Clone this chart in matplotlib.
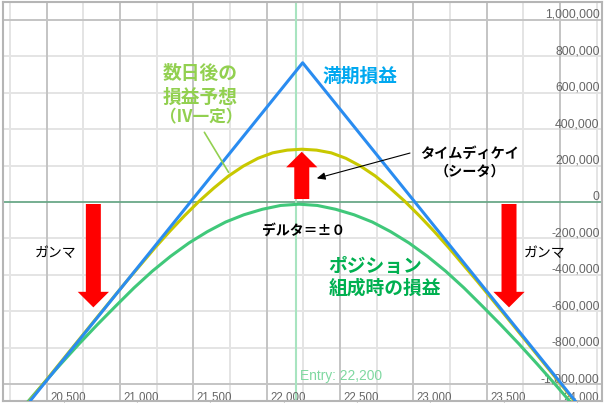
import matplotlib
matplotlib.use("Agg")
import matplotlib.pyplot as plt
from matplotlib import transforms as mtrans

# ---------------- data ----------------
expiry_x = [20200, 22245, 24300]
expiry_y = [-1280000, 765000, -1290000]

later_x = [20200, 20240, 20640, 20840, 21040, 21240, 21340, 21440, 21540, 21640,
           21740, 21840, 21940, 22040, 22140, 22240, 22340, 22440, 22540, 22640,
           22740, 22840, 22940, 23040, 23140, 23240, 23440, 23640, 23840, 24240, 24300]
later_y = [-1275000, -1235000, -836000, -637000, -440000, -250000, -160000, -75000, 5000, 77000,
           143000, 197000, 240000, 270000, 285000, 290000, 285000, 270000, 240000, 197000,
           143000, 77000, 5000, -75000, -160000, -250000, -440000, -637000, -836000, -1235000, -1295000]

entry_x = [20200, 20220, 20345, 20470, 20595, 20720, 20845, 20970, 21095, 21220,
           21345, 21470, 21595, 21720, 21845, 21970, 22095, 22220, 22345, 22470,
           22595, 22720, 22845, 22970, 23095, 23220, 23345, 23470, 23595, 23720,
           23845, 23970, 24095, 24220, 24300]
entry_y = [-1260000, -1240000, -1122000, -1005000, -891000, -780000, -674000, -572000, -472000, -380000,
           -298000, -225000, -163000, -110000, -70000, -40000, -19000, -12000, -19000, -40000,
           -70000, -110000, -163000, -225000, -298000, -380000, -472000, -572000, -674000, -780000,
           -891000, -1005000, -1122000, -1240000, -1320000]

x_major = [20500, 21000, 21500, 22000, 22500, 23000, 23500, 24000]
x_minor = [20250, 20750, 21250, 21750, 22250, 22750, 23250, 23750, 24250]
x_labels = ["20,500", "21,000", "21,500", "22,000", "22,500", "23,000", "23,500", "24,000"]
y_ticks = [1000000, 800000, 600000, 400000, 200000, 0,
           -200000, -400000, -600000, -800000, -1000000]
y_labels = ["1,000,000", "800,000", "600,000", "400,000", "200,000", "0",
            "-200,000", "-400,000", "-600,000", "-800,000", "-1,000,000"]
entry_price = 22200

# ---------------- figure ----------------
W, H = 605, 406
fig = plt.figure(figsize=(W / 100, H / 100), dpi=100)
ax = fig.add_axes([3 / W, 4 / H, 599 / W, 399 / H])
ax.set_xlim(20202, 24286)
ax.set_ylim(-1093400, 1098900)
ax.set_xticks([])
ax.set_yticks([])
for s in ax.spines.values():
    s.set_color("#b5b5b5")
    s.set_linewidth(1.5)

# grid
for v in x_minor:
    ax.axvline(v, color="#e4e4e4", lw=1.4, zorder=0)
for v in x_major:
    ax.axvline(v, color="#c4c4c4", lw=1.4, zorder=0.5)
for v in y_ticks:
    if v == 0:
        continue
    major = abs(v) == 1000000
    ax.axhline(v, color="#c4c4c4" if major else "#e4e4e4", lw=1.4,
               zorder=0.5 if major else 0)
ax.axhline(0, color="#6aa888", lw=1.3, zorder=0.8)
ax.axvline(entry_price, color="#a8e4c0", lw=1.5, zorder=0.8)

# tick labels inside the plot
tick_font = dict(family=["Liberation Sans", "DejaVu Sans"], color="#666666")
ytrans = mtrans.offset_copy(mtrans.blended_transform_factory(ax.transAxes, ax.transData),
                            fig=fig, x=-2.5, y=3, units="dots")
for v, lab in zip(y_ticks, y_labels):
    ax.text(1.0, v, lab, transform=ytrans, ha="right", va="baseline",
            fontsize=8.8, zorder=1, **tick_font)
xtrans = mtrans.offset_copy(mtrans.blended_transform_factory(ax.transData, ax.transAxes),
                            fig=fig, x=3.5, y=1.5, units="dots")
for v, lab in zip(x_major, x_labels):
    ax.text(v, 0.0, lab, transform=xtrans, ha="left", va="baseline",
            fontsize=8.3, zorder=1, **tick_font)

ax.text(22227, -949000, "Entry: 22,200", ha="left", va="center", fontsize=9.9,
        color="#7ed8a0", family=["Liberation Sans", "DejaVu Sans"], zorder=1)

# curves
ax.plot(entry_x, entry_y, color="#40c87a", lw=2.2, zorder=3)
ax.plot(later_x, later_y, color="#c8c800", lw=2.2, zorder=3.2)
ax.plot(expiry_x, expiry_y, color="#2a8cf0", lw=2.2, zorder=3.4)

# annotations
jp = ["Noto Sans CJK JP", "DejaVu Sans"]
ax.text(21545, 714000, "数日後の", ha="center", va="center", fontsize=13.5,
        fontweight="bold", color="#92d050", family=jp, zorder=5)
ax.text(21545, 582000, "損益予想", ha="center", va="center", fontsize=13.5,
        fontweight="bold", color="#92d050", family=jp, zorder=5)
ax.text(21552, 470000, "（IV一定）", ha="center", va="center", fontsize=12,
        fontweight="bold", color="#92d050", family=jp, zorder=5)
ax.annotate("", xy=(21740, 163000), xytext=(21575, 383000),
            arrowprops=dict(arrowstyle="-", color="#92d050", lw=1.2,
                            shrinkA=0, shrinkB=0), zorder=5)

ax.text(22382, 698000, "満期損益", ha="left", va="center", fontsize=13.5,
        fontweight="bold", color="#00a8f0", family=jp, zorder=5)

ax.text(23386, 273000, "タイムディケイ", ha="center", va="center", fontsize=10.2,
        fontweight="bold", color="black", family=jp, zorder=5)
ax.text(23389, 172000, "（シータ）", ha="center", va="center", fontsize=10.2,
        fontweight="bold", color="black", family=jp, zorder=5)
ax.annotate("", xy=(22341, 130000), xytext=(22977, 269000),
            arrowprops=dict(arrowstyle="-|>,head_length=0.5,head_width=0.22",
                            color="black", lw=0.8, shrinkA=0, shrinkB=0,
                            mutation_scale=10), zorder=6)

red_style = "simple,head_length=1.12,head_width=2.25,tail_width=1.08"
ax.annotate("", xy=(22239, 276000), xytext=(22239, 16500),
            arrowprops=dict(arrowstyle=red_style, fc="#ff0000", ec="none",
                            shrinkA=0, shrinkB=0, mutation_scale=10), zorder=6)
ax.annotate("", xy=(20818, -579000), xytext=(20818, -11000),
            arrowprops=dict(arrowstyle=red_style, fc="#ff0000", ec="none",
                            shrinkA=0, shrinkB=0, mutation_scale=10), zorder=6)
ax.annotate("", xy=(23652, -579000), xytext=(23652, -11000),
            arrowprops=dict(arrowstyle=red_style, fc="#ff0000", ec="none",
                            shrinkA=0, shrinkB=0, mutation_scale=10), zorder=6)

ax.text(22254, -152000, "デルタ＝±０", ha="center", va="center", fontsize=10,
        fontweight="bold", color="black", family=jp, zorder=5)
ax.text(22420, -350000, "ポジション", ha="left", va="center", fontsize=13.5,
        fontweight="bold", color="#00b050", family=jp, zorder=5)
ax.text(22420, -469000, "組成時の損益", ha="left", va="center", fontsize=13.5,
        fontweight="bold", color="#00b050", family=jp, zorder=5)
ax.text(20562, -276000, "ガンマ", ha="center", va="center", fontsize=10,
        color="black", family=jp, zorder=5)
ax.text(23896, -276000, "ガンマ", ha="center", va="center", fontsize=10,
        color="black", family=jp, zorder=5)

fig.savefig("out.png", dpi=100)
